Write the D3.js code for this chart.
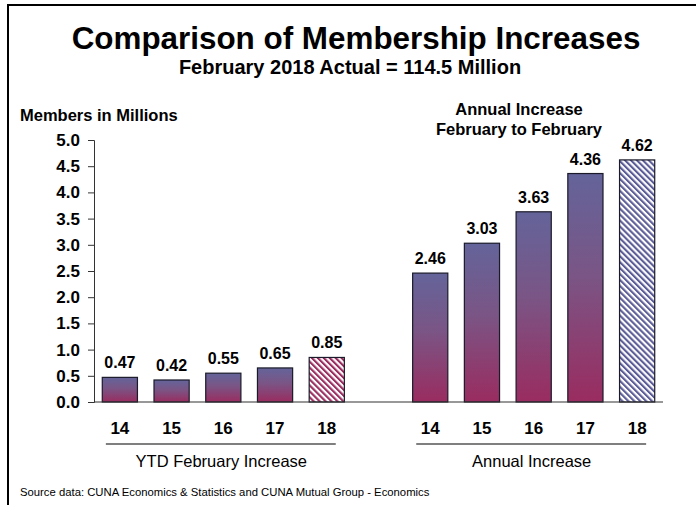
<!DOCTYPE html>
<html>
<head>
<meta charset="utf-8">
<script src="https://cdn.jsdelivr.net/npm/d3@7"></script>
<style>
  html, body { margin: 0; padding: 0; background: #fff; }
  svg { display: block; font-family: "Liberation Sans", Arial, sans-serif; }
</style>
</head>
<body>
<svg id="chart" width="696" height="505"></svg>
<script>
// Year-to-date February increase (millions of members)
const ytdYears = ["14", "15", "16", "17", "18"];
const ytdValues = [0.47, 0.42, 0.55, 0.65, 0.85];

// Annual February-to-February increase (millions of members)
const annualYears = ["14", "15", "16", "17", "18"];
const annualValues = [2.46, 3.03, 3.63, 4.36, 4.62];

// Y axis ticks
const yTicks = [0, 0.5, 1.0, 1.5, 2.0, 2.5, 3.0, 3.5, 4.0, 4.5, 5.0];

const groupLabels = ["YTD February Increase", "Annual Increase"];

const svg = d3.select("#chart");
const W = 696, H = 505;

// Frame (top and left rules)
svg.append("line").attr("x1", 8).attr("x2", W).attr("y1", 5).attr("y2", 5)
  .attr("stroke", "#000").attr("stroke-width", 2);
svg.append("line").attr("x1", 8).attr("x2", 8).attr("y1", 4).attr("y2", H)
  .attr("stroke", "#000").attr("stroke-width", 2);

// Headings
function heading(txt, xPos, yPos, size, anchor) {
  return svg.append("text").attr("x", xPos).attr("y", yPos)
    .attr("text-anchor", anchor || "middle")
    .attr("font-size", size).attr("font-weight", "bold")
    .text(txt);
}
heading("Comparison of Membership Increases", 356, 49, 31.4);
heading("February 2018 Actual = 114.5 Million", 350, 74, 20);
heading("Members in Millions", 20, 121, 16.5, "start");
heading("Annual Increase", 519, 115, 16.5);
heading("February to February", 519, 135, 16.5);

// Scales
const ytdKeys = ytdYears.map(d => "ytd-" + d);
const annKeys = annualYears.map(d => "ann-" + d);
const x = d3.scaleBand()
  .domain([...ytdKeys, "gap", ...annKeys])
  .range([94, 663])
  .paddingInner(0.32)
  .paddingOuter(0.16);
const y = d3.scaleLinear().domain([0, 5]).range([402, 140]);

// Fills
const defs = svg.append("defs");
const grad = defs.append("linearGradient").attr("id", "barGrad")
  .attr("x1", 0).attr("y1", 0).attr("x2", 0).attr("y2", 1);
grad.append("stop").attr("offset", "0%").attr("stop-color", "#64649a");
grad.append("stop").attr("offset", "45%").attr("stop-color", "#7a5585");
grad.append("stop").attr("offset", "100%").attr("stop-color", "#9a2c60");

function hatch(id, color) {
  const p = defs.append("pattern").attr("id", id)
    .attr("patternUnits", "userSpaceOnUse")
    .attr("width", 4.2).attr("height", 4.2)
    .attr("patternTransform", "rotate(-45)");
  p.append("rect").attr("width", 4.2).attr("height", 4.2).attr("fill", "#fff");
  p.append("rect").attr("width", 2.1).attr("height", 4.2).attr("fill", color);
}
hatch("hatchRed", "#9a2c60");
hatch("hatchBlue", "#5c5c98");

// Y axis
const yAxis = d3.axisLeft(y).tickValues(yTicks).tickFormat(d3.format(".1f"))
  .tickSize(6).tickSizeOuter(6).tickPadding(8);
const gy = svg.append("g").attr("transform", "translate(94,0)").call(yAxis);
gy.selectAll("path, line").attr("stroke", "#333");
gy.selectAll("text").attr("font-size", 17).attr("font-weight", "bold")
  .attr("fill", "#000").attr("font-family", "'Liberation Sans', Arial, sans-serif");

// Bars
const rows = [
  ...ytdValues.map((v, i) => ({ key: ytdKeys[i], year: ytdYears[i], v, hatch: i === ytdValues.length - 1 ? "hatchRed" : null })),
  ...annualValues.map((v, i) => ({ key: annKeys[i], year: annualYears[i], v, hatch: i === annualValues.length - 1 ? "hatchBlue" : null }))
];

svg.append("g").selectAll("rect").data(rows).join("rect")
  .attr("x", d => x(d.key))
  .attr("y", d => y(d.v))
  .attr("width", x.bandwidth())
  .attr("height", d => y(0) - y(d.v))
  .attr("fill", d => d.hatch ? `url(#${d.hatch})` : "url(#barGrad)")
  .attr("stroke", "#1a1a2a")
  .attr("stroke-width", 1.2);

// Value labels
svg.append("g").selectAll("text").data(rows).join("text")
  .attr("x", d => x(d.key) + x.bandwidth() / 2)
  .attr("y", d => y(d.v) - 9)
  .attr("text-anchor", "middle")
  .attr("font-size", 16).attr("font-weight", "bold")
  .text(d => d3.format(".2f")(d.v));

// Baseline across both groups
svg.append("line").attr("x1", 94).attr("x2", 663).attr("y1", y(0)).attr("y2", y(0))
  .attr("stroke", "#333").attr("stroke-width", 1.2);

// Category labels
svg.append("g").selectAll("text").data(rows).join("text")
  .attr("x", d => x(d.key) + x.bandwidth() / 2)
  .attr("y", 434)
  .attr("text-anchor", "middle")
  .attr("font-size", 17).attr("font-weight", "bold")
  .text(d => d.year);

// Group underlines and captions
[[ytdKeys, groupLabels[0]], [annKeys, groupLabels[1]]].forEach(([keys, label]) => {
  const c0 = x(keys[0]) + x.bandwidth() / 2;
  const c1 = x(keys[keys.length - 1]) + x.bandwidth() / 2;
  svg.append("line").attr("x1", c0 - 14).attr("x2", c1 + 9)
    .attr("y1", 444).attr("y2", 444).attr("stroke", "#000").attr("stroke-width", 1.2);
  svg.append("text").attr("x", (c0 + c1) / 2 - 2).attr("y", 467)
    .attr("text-anchor", "middle").attr("font-size", 16.5)
    .text(label);
});

// Source note
svg.append("text").attr("x", 20).attr("y", 496).attr("font-size", 11.3)
  .text("Source data: CUNA Economics & Statistics and CUNA Mutual Group - Economics");
</script>
</body>
</html>
